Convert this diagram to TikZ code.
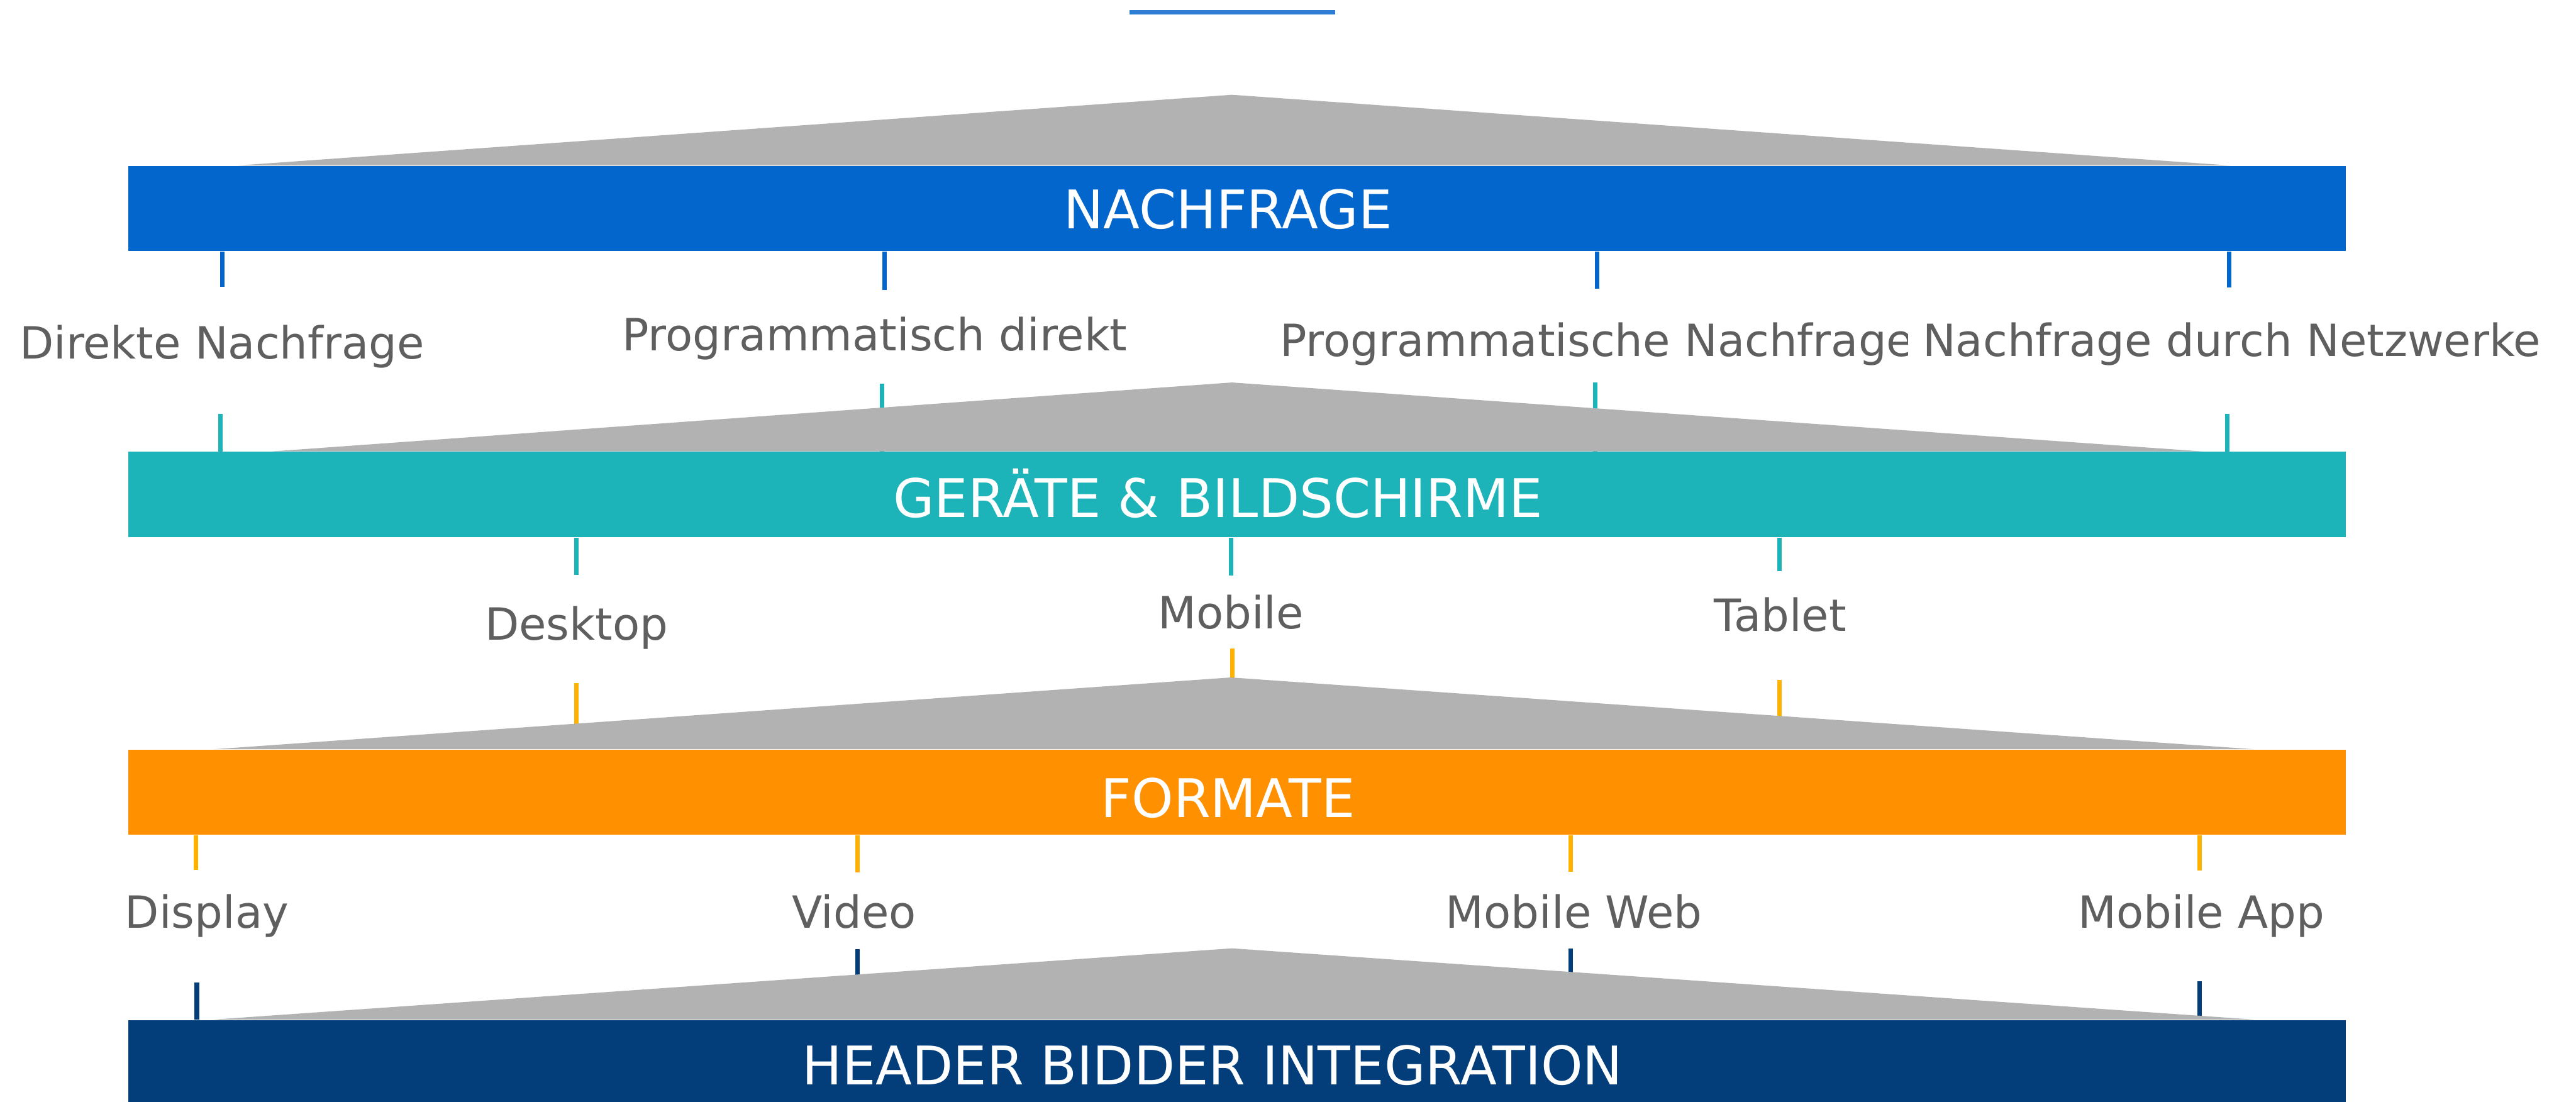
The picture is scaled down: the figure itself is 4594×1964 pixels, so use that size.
\documentclass[tikz,border=0pt]{standalone}
\usepackage{fontspec}
\setmainfont{DejaVu Sans}
\definecolor{cBlue}{HTML}{0366CC}
\definecolor{cTopLine}{HTML}{2F7CD4}
\definecolor{cTeal}{HTML}{1DB4B9}
\definecolor{cOrange}{HTML}{FF9100}
\definecolor{cAmber}{HTML}{FFB300}
\definecolor{cNavy}{HTML}{033D7A}
\definecolor{cRoof}{HTML}{B2B2B2}
\definecolor{cText}{HTML}{5F5F5F}
\begin{document}
\begin{tikzpicture}[x=0.01cm,y=-0.01cm,
  bar/.style={rectangle, inner sep=0pt, minimum width=39.53cm, anchor=north west},
  bartitle/.style={text=white, anchor=base, inner sep=0pt, font=\fontsize{27}{32}\selectfont},
  lbl/.style={text=cText, fill=white, anchor=base, inner xsep=0.21cm, inner ysep=0pt,
    font=\fontsize{22.5}{27}\selectfont},
  tickline/.style={line width=0.08cm},
  roof/.style={fill=cRoof}
]
\useasboundingbox (0,0) rectangle (4594,1964);

% short accent line at the top
\node[rectangle, fill=cTopLine, inner sep=0pt, minimum width=3.66cm, minimum height=0.08cm,
  anchor=north west] (topline) at (2014,17) {};

% ---------- level 1: Nachfrage ----------
\fill[roof] (425,295) -- (2197,169) -- (3976,295) -- cycle;
\node[bar, fill=cBlue, minimum height=1.52cm] (bar1) at (228,295) {};
\node[bartitle] (title1) at (2190,408) {NACHFRAGE};

\coordinate (ta1) at (396,512);
\coordinate (ta2) at (1577,517);
\coordinate (ta3) at (2848,515);
\coordinate (ta4) at (3975,513);
\foreach \t in {ta1,ta2,ta3,ta4}
  \draw[tickline, cBlue] (bar1.south -| \t) -- (\t);

\node[lbl] (l11) at (396,640) {Direkte Nachfrage};
\node[lbl] (l12) at (1560,625) {Programmatisch direkt};
\node[lbl] (l13) at (2848,635) {Programmatische Nachfrage};
\node[lbl, inner xsep=0.26cm] (l14) at (3980,635) {Nachfrage durch Netzwerke};

% ---------- level 2: Geräte & Bildschirme ----------
\node[bar, fill=cTeal, minimum height=1.52cm] (bar2) at (228,805) {};
\coordinate (tb1) at (393,738);
\coordinate (tb2) at (1573,684);
\coordinate (tb3) at (2845,682);
\coordinate (tb4) at (3972,738);
\foreach \t in {tb1,tb2,tb3,tb4}
  \draw[tickline, cTeal] (\t) -- (bar2.north -| \t);
\fill[roof] (484,805) -- (2197,682) -- (3928,805) -- cycle;
\node[bartitle] (title2) at (2172,922) {GERÄTE \& BILDSCHIRME};

\coordinate (tc1) at (1028,1025);
\coordinate (tc2) at (2195,1026);
\coordinate (tc3) at (3173,1018);
\foreach \t in {tc1,tc2,tc3}
  \draw[tickline, cTeal] (bar2.south -| \t) -- (\t);

\node[lbl] (l21) at (1028,1141) {Desktop};
\node[lbl] (l22) at (2195,1121) {Mobile};
\node[lbl] (l23) at (3175,1126) {Tablet};

% ---------- level 3: Formate ----------
\node[bar, fill=cOrange, minimum height=1.52cm] (bar3) at (228,1336) {};
\coordinate (td1) at (1028,1218);
\coordinate (td2) at (2198,1156);
\coordinate (td3) at (3173,1212);
\foreach \t in {td1,td2,td3}
  \draw[tickline, cAmber] (\t) -- (bar3.north -| \t);
\fill[roof] (381,1336) -- (2195,1208) -- (4020,1336) -- cycle;
\node[bartitle] (title3) at (2190,1457) {FORMATE};

\coordinate (te1) at (349,1551);
\coordinate (te2) at (1529,1556);
\coordinate (te3) at (2801,1555);
\coordinate (te4) at (3923,1552);
\foreach \t in {te1,te2,te3,te4}
  \draw[tickline, cAmber] (bar3.south -| \t) -- (\t);

\node[lbl] (l31) at (369,1655) {Display};
\node[lbl] (l32) at (1523,1655) {Video};
\node[lbl] (l33) at (2807,1655) {Mobile Web};
\node[lbl] (l34) at (3926,1655) {Mobile App};

% ---------- level 4: Header Bidder Integration ----------
\node[bar, fill=cNavy, minimum height=1.49cm] (bar4) at (228,1818) {};
\coordinate (tf1) at (351,1752);
\coordinate (tf2) at (1529,1692);
\coordinate (tf3) at (2801,1691);
\coordinate (tf4) at (3923,1750);
\foreach \t in {tf1,tf2,tf3,tf4}
  \draw[tickline, cNavy] (\t) -- (bar4.north -| \t);
\fill[roof] (381,1818) -- (2197,1691) -- (4020,1818) -- cycle;
\node[bartitle] (title4) at (2162,1934) {HEADER BIDDER INTEGRATION};
\end{tikzpicture}
\end{document}
